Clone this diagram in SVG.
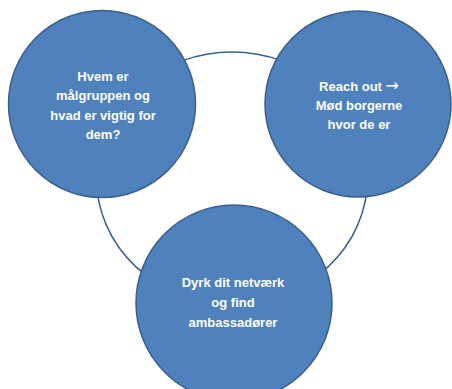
<svg xmlns="http://www.w3.org/2000/svg" width="452" height="389" viewBox="0 0 452 389">
<style>
.node{fill:#4f81bd;stroke:#3a5f8b;stroke-width:1.5}
.ring{fill:none;stroke:#3a5f8b;stroke-width:1.5}
.lbl{font-family:"Liberation Sans",Arial,sans-serif;font-size:13px;font-weight:bold;fill:#ffffff;text-anchor:middle}
.arr{font-family:"DejaVu Sans",sans-serif;font-weight:normal;font-size:16px}
</style>
<rect width="452" height="389" fill="#ffffff"/>
<g id="connectors">
<ellipse class="ring" cx="232" cy="178" rx="135.5" ry="126"/>
</g>
<g id="node-left">
<circle class="node" cx="102" cy="104" r="93.5"/>
<text class="lbl" x="103" y="81">Hvem er</text>
<text class="lbl" x="103" y="100">målgruppen og</text>
<text class="lbl" x="103" y="119.5">hvad er vigtig for</text>
<text class="lbl" x="103" y="138.5">dem?</text>
</g>
<g id="node-right">
<circle class="node" cx="358" cy="104" r="93"/>
<text class="lbl" x="359" y="90.5">Reach out <tspan class="arr">→</tspan></text>
<text class="lbl" x="359" y="110">Mød borgerne</text>
<text class="lbl" x="359" y="129">hvor de er</text>
</g>
<g id="node-bottom">
<circle class="node" cx="234" cy="303" r="98"/>
<text class="lbl" x="233" y="287">Dyrk dit netværk</text>
<text class="lbl" x="233" y="307">og find</text>
<text class="lbl" x="233" y="327">ambassadører</text>
</g>
</svg>
